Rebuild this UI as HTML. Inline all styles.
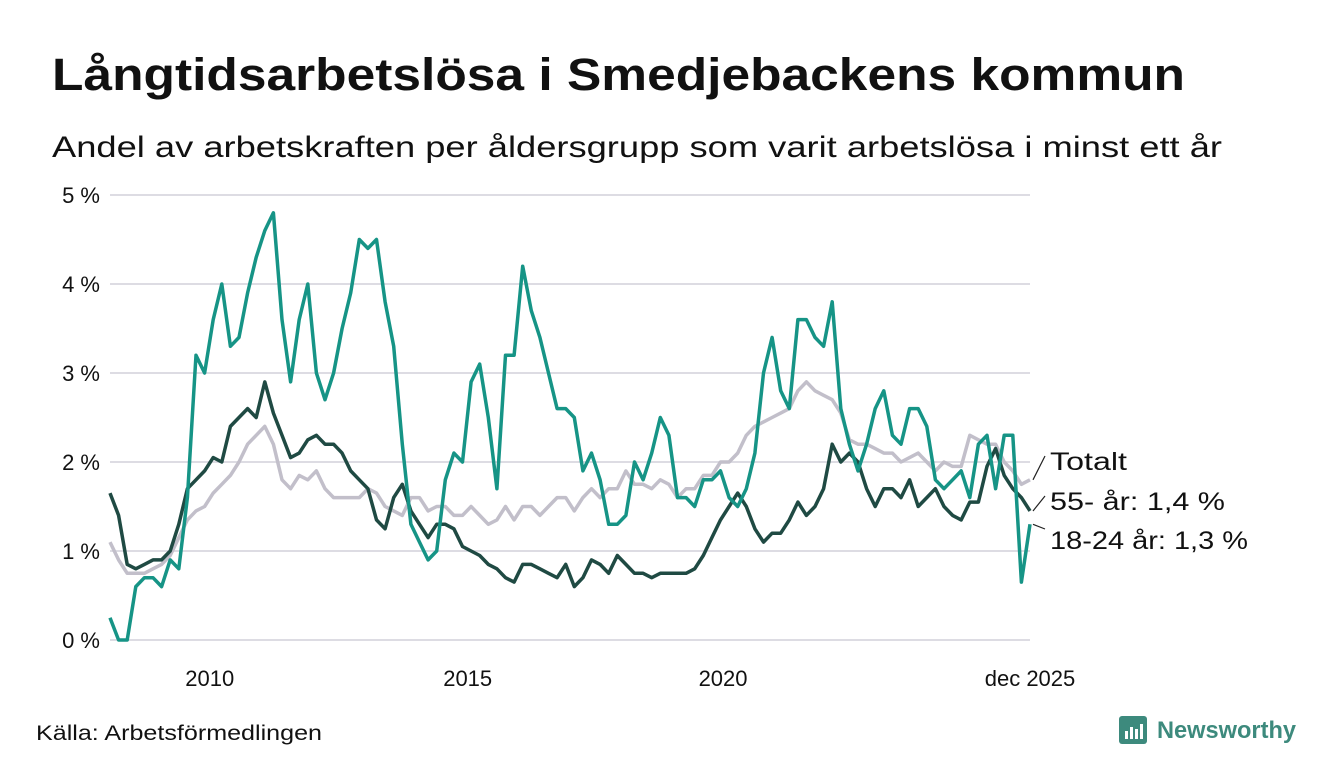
<!DOCTYPE html>
<html><head><meta charset="utf-8"><style>
body{margin:0;background:#fff;font-family:"Liberation Sans","DejaVu Sans",sans-serif;}
#wrap{position:relative;width:1340px;height:780px;overflow:hidden;}
</style></head><body>
<div id="wrap">
<svg id="svg" width="1340" height="780">
<text x="52" y="90" font-size="45" font-weight="bold" fill="#111" textLength="1133" lengthAdjust="spacingAndGlyphs">Långtidsarbetslösa i Smedjebackens kommun</text>
<text x="52" y="157" font-size="30" fill="#111" textLength="1170" lengthAdjust="spacingAndGlyphs">Andel av arbetskraften per åldersgrupp som varit arbetslösa i minst ett år</text>
<g id="grid"></g><g id="lines"></g><g id="labels"></g>
<text x="36" y="740" font-size="21" fill="#111" textLength="286" lengthAdjust="spacingAndGlyphs">Källa: Arbetsförmedlingen</text>
<g>
<rect x="1119" y="716" width="28" height="28" rx="3" fill="#3d8a7d"/>
<rect x="1125" y="731" width="3" height="8" fill="#fff"/><rect x="1130" y="727" width="3" height="12" fill="#fff"/><rect x="1135" y="729" width="3" height="10" fill="#fff"/><rect x="1140" y="724" width="3" height="15" fill="#fff"/>
<text x="1157" y="738" font-size="24" font-weight="bold" fill="#3d8a7d" textLength="139" lengthAdjust="spacingAndGlyphs">Newsworthy</text>
</g>
</svg></div>
<script>
const yTicks=[0,1,2,3,4,5];
const xTickLabels=["2010","2015","2020","dec 2025"];
const xTickPos=[11.6,41.6,71.3,107]; // index positions of ticks (bi-monthly steps)
const youth=[0.25,0,0,0.6,0.7,0.7,0.6,0.9,0.8,1.6,3.2,3.0,3.6,4.0,3.3,3.4,3.9,4.3,4.6,4.8,3.6,2.9,3.6,4.0,3.0,2.7,3.0,3.5,3.9,4.5,4.4,4.5,3.8,3.3,2.2,1.3,1.1,0.9,1.0,1.8,2.1,2.0,2.9,3.1,2.5,1.7,3.2,3.2,4.2,3.7,3.4,3.0,2.6,2.6,2.5,1.9,2.1,1.8,1.3,1.3,1.4,2.0,1.8,2.1,2.5,2.3,1.6,1.6,1.5,1.8,1.8,1.9,1.6,1.5,1.7,2.1,3.0,3.4,2.8,2.6,3.6,3.6,3.4,3.3,3.8,2.6,2.2,1.9,2.2,2.6,2.8,2.3,2.2,2.6,2.6,2.4,1.8,1.7,1.8,1.9,1.6,2.2,2.3,1.7,2.3,2.3,0.65,1.3];
const older=[1.65,1.4,0.85,0.8,0.85,0.9,0.9,1.0,1.3,1.7,1.8,1.9,2.05,2.0,2.4,2.5,2.6,2.5,2.9,2.55,2.3,2.05,2.1,2.25,2.3,2.2,2.2,2.1,1.9,1.8,1.7,1.35,1.25,1.6,1.75,1.45,1.3,1.15,1.3,1.3,1.25,1.05,1.0,0.95,0.85,0.8,0.7,0.65,0.85,0.85,0.8,0.75,0.7,0.85,0.6,0.7,0.9,0.85,0.75,0.95,0.85,0.75,0.75,0.7,0.75,0.75,0.75,0.75,0.8,0.95,1.15,1.35,1.5,1.65,1.5,1.25,1.1,1.2,1.2,1.35,1.55,1.4,1.5,1.7,2.2,2.0,2.1,2.0,1.7,1.5,1.7,1.7,1.6,1.8,1.5,1.6,1.7,1.5,1.4,1.35,1.55,1.55,1.95,2.15,1.85,1.7,1.6,1.45];
const total=[1.1,0.9,0.75,0.75,0.75,0.8,0.85,0.95,1.15,1.35,1.45,1.5,1.65,1.75,1.85,2.0,2.2,2.3,2.4,2.2,1.8,1.7,1.85,1.8,1.9,1.7,1.6,1.6,1.6,1.6,1.7,1.65,1.5,1.45,1.4,1.6,1.6,1.45,1.5,1.5,1.4,1.4,1.5,1.4,1.3,1.35,1.5,1.35,1.5,1.5,1.4,1.5,1.6,1.6,1.45,1.6,1.7,1.6,1.7,1.7,1.9,1.75,1.75,1.7,1.8,1.75,1.6,1.7,1.7,1.85,1.85,2.0,2.0,2.1,2.3,2.4,2.45,2.5,2.55,2.6,2.8,2.9,2.8,2.75,2.7,2.55,2.25,2.2,2.2,2.15,2.1,2.1,2.0,2.05,2.1,2.0,1.9,2.0,1.95,1.95,2.3,2.25,2.2,2.2,2.0,1.9,1.75,1.8];
const seriesLabels=["Totalt","55- år: 1,4 %","18-24 år: 1,3 %"];

const NS="http://www.w3.org/2000/svg";
const x0=110,x1=1030,y0=640,y5=195;
const n=youth.length;
function X(i){return x0+i*(x1-x0)/(n-1);}
function Y(v){return y0-v*(y0-y5)/5;}
function mk(t,a,p){const e=document.createElementNS(NS,t);for(const k in a)e.setAttribute(k,a[k]);p.appendChild(e);return e;}
const grid=document.getElementById('grid');
yTicks.forEach(t=>{
 const l=mk('line',{x1:x0,x2:x1,y1:Y(t),y2:Y(t),stroke:'#dddce3','stroke-width':2},grid);
 
 
 const tx=mk('text',{x:100,y:Y(t)+8,'text-anchor':'end','font-size':22,fill:'#111'},grid);
 tx.textContent=t+' %';
 
 
});
xTickLabels.forEach((s,k)=>{
 const tx=mk('text',{x:X(xTickPos[k]),y:686,'text-anchor':'middle','font-size':22,fill:'#111'},grid);
 tx.textContent=s;
 
 
});
const lines=document.getElementById('lines');
function draw(arr,col,name){
 const d=arr.map((v,i)=>(i?'L':'M')+X(i).toFixed(1)+' '+Y(v).toFixed(1)).join(' ');
 const p=mk('path',{d:d,fill:'none',stroke:col,'stroke-width':3.5,'stroke-linejoin':'round'},lines);
 
 
}
draw(total,'#c2bfca','line-totalt');
draw(older,'#1f4a43','line-55-plus');
draw(youth,'#169486','line-18-24');
const lab=document.getElementById('labels');
const ends=[total[n-1],older[n-1],youth[n-1]];
const ly=[470,510,549];
const lw=[77,175,198];
seriesLabels.forEach((s,k)=>{
 const l=mk('line',{x1:x1+3,y1:Y(ends[k]),x2:1045,y2:ly[k]-14+(k==2?-6:0),stroke:'#222','stroke-width':1.2},lab);
 
 
 const t=mk('text',{x:1050,y:ly[k],'font-size':25,fill:'#111',textLength:lw[k],lengthAdjust:'spacingAndGlyphs'},lab);
 t.textContent=s;
 
 
});
</script>
</body></html>
